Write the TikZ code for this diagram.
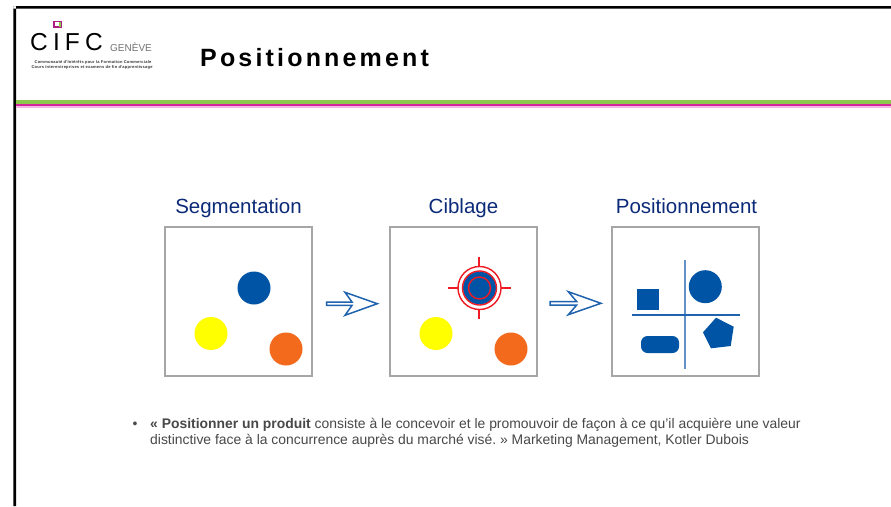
\documentclass[tikz,border=0pt]{standalone}
\usepackage{fontspec}
\setmainfont{Liberation Sans}
\newfontfamily\spacedfont[LetterSpace=12.7]{Liberation Sans}
\newfontfamily\logofont[LetterSpace=21]{Liberation Sans}
\newfontfamily\tinyfont[LetterSpace=6]{Liberation Sans}
\definecolor{cifcblue}{HTML}{0054A6}
\definecolor{navy}{HTML}{0B2A78}
\definecolor{arrowblue}{HTML}{1F63AE}
\definecolor{boxgrey}{HTML}{A6A6A6}
\definecolor{dotyellow}{HTML}{FFFF00}
\definecolor{dotorange}{HTML}{F36A1D}
\definecolor{targetred}{HTML}{F01A24}
\definecolor{bandgreen}{HTML}{8CC84B}
\definecolor{bandpink}{HTML}{D6249F}
\definecolor{bandlight}{HTML}{F2B8E4}
\definecolor{bodygrey}{HTML}{484848}
\tikzset{
  panel/.style={draw=boxgrey,line width=1.9pt,fill=white,minimum width=147pt,minimum height=148.5pt,inner sep=0pt,outer sep=0pt,anchor=north west},
  dot/.style={circle,minimum size=33pt,inner sep=0pt,fill=#1},
  paneltitle/.style={text=navy,font=\fontsize{20.5}{23}\selectfont,inner sep=0pt,anchor=base},
  blockarrow/.style={draw=arrowblue,line width=1.5pt,fill=white,line join=miter},
  ring/.style={draw=targetred,line width=1.4pt},
  bodytext/.style={text=bodygrey,font=\fontsize{13.9}{16}\selectfont\frenchspacing,inner sep=0pt,anchor=base west}
}
\begin{document}
\begin{tikzpicture}[x=1pt,y=-1pt]
\useasboundingbox (0,0) rectangle (891,506);
\fill[white] (0,0) rectangle (891,506);
% slide frame
\fill[black] (13.4,506) rectangle (16,6) (13.4,6) rectangle (891,8.5);
% bands
\fill[bandgreen] (16,100) rectangle (891,103.7);
\fill[bandpink] (16,103.7) rectangle (891,106.4);
\fill[bandlight] (16,106.4) rectangle (891,107.6);
% logo
\fill[bandpink!80!black] (52.5,20.5) rectangle (62,28);
\fill[bandgreen] (58.5,22) rectangle (60.5,27);
\fill[white] (55,22.3) rectangle (58.5,26.3);
\node[inner sep=0pt,anchor=base west,text=black] (cifc) at (30,50.5) {\logofont\fontsize{24.5}{30}\selectfont CIFC};
\node[inner sep=0pt,anchor=base west,text=black!55] (geneve) at (110,51.5) {\fontsize{10}{12}\selectfont GENÈVE};
\node[inner sep=0pt,anchor=base,text=black!80] (logo1) at (93,63.2) {\tinyfont\bfseries\fontsize{4}{5}\selectfont Communauté d'Intérêts pour la Formation Commerciale};
\node[inner sep=0pt,anchor=base,text=black!80] (logo2) at (92,68.2) {\tinyfont\bfseries\fontsize{4}{5}\selectfont Cours interentreprises et examens de fin d'apprentissage};
\node[inner sep=0pt,anchor=base west,text=black] (title) at (200,66.5) {\spacedfont\bfseries\fontsize{25}{28}\selectfont Positionnement};
% panels
\node[panel] (seg) at (165,227.3) {};
\node[panel] (cib) at (390,227.3) {};
\node[panel] (pos) at (612,227.3) {};
\node[paneltitle] (tseg) at (238.5,213) {Segmentation};
\node[paneltitle] (tcib) at (463.5,213) {Ciblage};
\node[paneltitle] (tpos) at (686.5,213) {Positionnement};
% segmentation
\node[dot=cifcblue] (s1) at (254,288) {};
\node[dot=dotyellow] (s2) at (211,333.5) {};
\node[dot=dotorange] (s3) at (286,349) {};
% ciblage
\coordinate (cc) at (479.5,288);
\fill[targetred] (448,287) rectangle (511,289);
\fill[targetred] (478,257) rectangle (480,319);
\fill[white] (cc) circle (21.5);
\node[dot=cifcblue] (c1) at (cc) {};
\node[dot=dotyellow] (c2) at (436,333.5) {};
\node[dot=dotorange] (c3) at (511,349) {};
\draw[ring] (c1) circle (21.5);
\draw[ring] (c1) circle (17);
\draw[ring] (c1) circle (11);
% arrows
\draw[blockarrow] (326.5,302) -- (352,302) -- (345,292.3) -- (377.3,303.7) -- (345,315.3) -- (352,305.4) -- (326.5,305.4) -- cycle;
\draw[blockarrow] (550,301.6) -- (576.7,301.6) -- (568.3,291.7) -- (601,303.3) -- (568.3,314.7) -- (576.7,305) -- (550,305) -- cycle;
% positioning map
\fill[arrowblue!70!white] (684,260) rectangle (686,368.5);
\fill[arrowblue] (631.5,314.2) rectangle (740,315.8);
\node[dot=cifcblue] (p1) at (705.3,286.7) {};
\fill[cifcblue] (636.5,289) rectangle (658.5,310);
\fill[cifcblue,rounded corners=6.5pt] (641,336) rectangle (679,353);
\fill[cifcblue] (716,317.7) -- (733.7,326.7) -- (730.7,346) -- (711,348.3) -- (703,332.3) -- cycle;
% text
\node[bodytext,anchor=base] (bullet) at (135,428) {•};
\node[bodytext] (l1) at (150,428.5) {\textbf{« Positionner un produit} consiste à le concevoir et le promouvoir de façon à ce qu’il acquière une valeur};
\node[bodytext] (l2) at (150,444.5) {distinctive face à la concurrence auprès du marché visé. » Marketing Management, Kotler Dubois};
\end{tikzpicture}
\end{document}
